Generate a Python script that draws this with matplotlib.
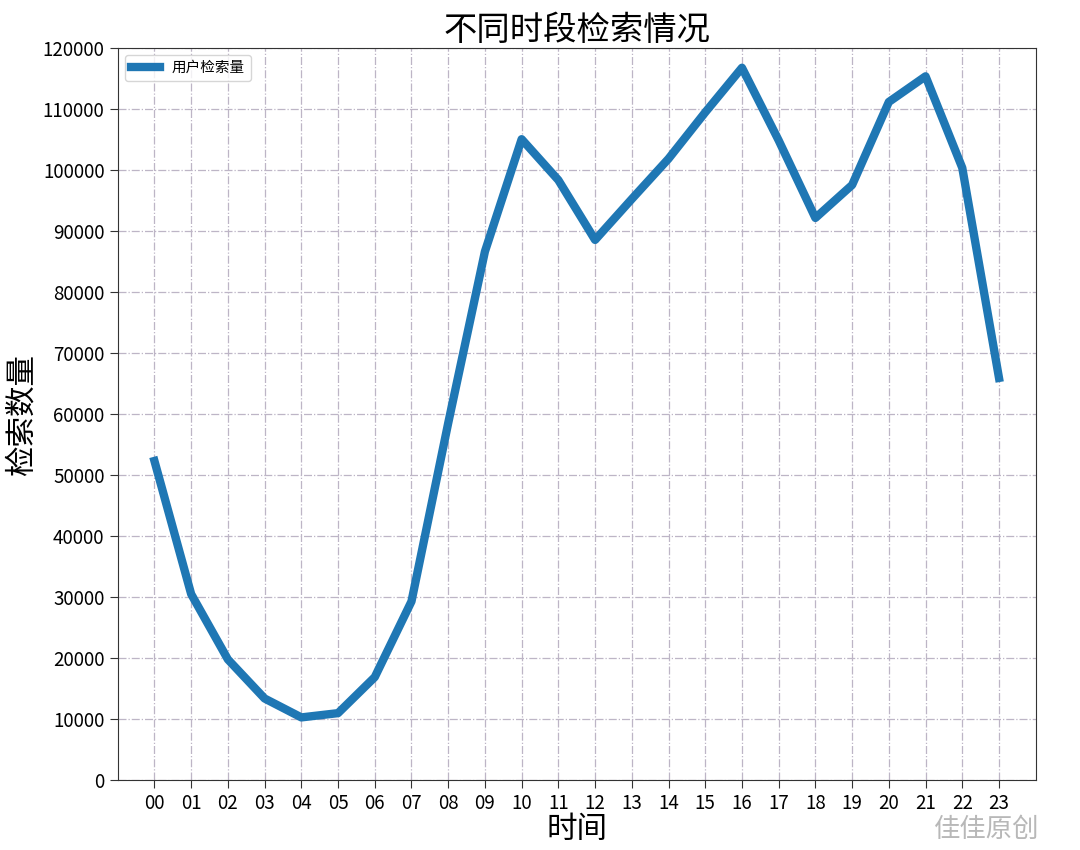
import matplotlib
matplotlib.use('Agg')
from matplotlib import pyplot as plt

plt.rcParams['font.family'] = ['Noto Sans CJK SC', 'DejaVu Sans']
plt.rcParams['axes.unicode_minus'] = False

hours = ['00', '01', '02', '03', '04', '05', '06', '07', '08', '09', '10', '11',
         '12', '13', '14', '15', '16', '17', '18', '19', '20', '21', '22', '23']
searches = [52300, 30500, 19800, 13400, 10300, 11000, 16900, 29300, 58500, 86600,
            105000, 98300, 88500, 95200, 101800, 109400, 116700, 104800, 92100,
            97500, 111100, 115300, 100300, 65900]
yticks = list(range(0, 120001, 10000))

fig = plt.figure(figsize=(10.8, 8.5), dpi=100)
ax = fig.add_axes([0.109, 0.082, 0.85, 0.862])

x = list(range(len(hours)))
ax.plot(x, searches, color='#1f77b4', linewidth=6, label='用户检索量')

ax.set_xlim(-1, 24)
ax.set_ylim(0, 120000)
ax.set_xticks(x)
ax.set_xticklabels(hours)
ax.set_yticks(yticks)
ax.tick_params(labelsize=13.5, length=6, color='#333333')
ax.grid(True, linestyle='-.', color='#bdb5c6', linewidth=0.9)
for s in ax.spines.values():
    s.set_color('#333333')

ax.set_title('不同时段检索情况', fontsize=24, pad=2)
ax.set_xlabel('时间', fontsize=22, labelpad=0)
ax.set_ylabel('检索数量', fontsize=22, labelpad=4)
ax.legend(loc='upper left', fontsize=10.5)

# watermark, kept just below the tick labels
fig.text(0.962, 0.024, '佳佳原创', fontsize=19, color='#b8b8b8', ha='right', va='center')

fig.savefig('out.png', dpi=100)
